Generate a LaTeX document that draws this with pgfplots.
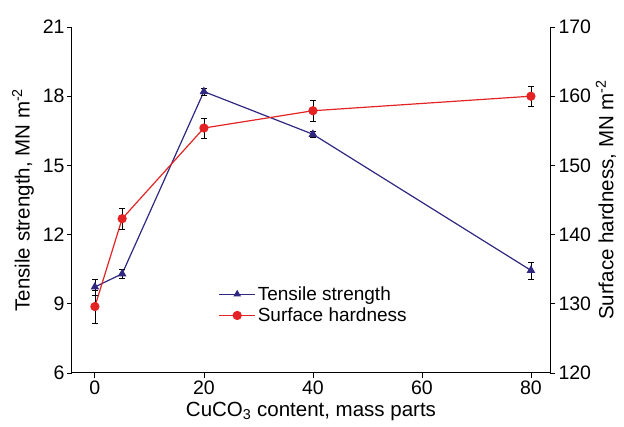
\documentclass[border=0pt]{standalone}
\usepackage{pgfplots}
\pgfplotsset{compat=1.18}
\usepackage{fontspec}
\setmainfont{Liberation Sans}
\setsansfont{Liberation Sans}
\definecolor{tsblue}{RGB}{48,40,128}
\definecolor{shred}{RGB}{228,36,36}
\begin{document}
\begin{tikzpicture}
\pgfplotsset{
  common/.style={
    scale only axis, width=478pt, height=346pt,
    xmin=-4.2, xmax=83.5,
    tick align=outside,
    major tick length=5pt,
    tick style={black, line width=0.8pt},
    axis line style={black, line width=1pt},
    ticklabel style={font=\fontsize{19.5}{22}\selectfont},
    label style={font=\fontsize{20.5}{23}\selectfont},
    /pgf/number format/assume math mode=true,
    error bars/error bar style={black, line width=0.5pt},
    error bars/error mark options={black, rotate=90, mark size=3pt, line width=0.5pt},
  }
}
\begin{axis}[common, name=ax,
  axis x line*=bottom, axis y line*=left,
  ymin=6, ymax=21, ytick={6,9,12,15,18,21},
  xtick={0,20,40,60,80},
  xticklabel style={yshift=1pt},
  xlabel={CuCO\textsubscript{3} content, mass parts},
  ylabel={Tensile strength, MN m\textsuperscript{-2}},
  yticklabel style={xshift=1pt},
  ylabel style={yshift=2pt},
  xlabel style={yshift=-1pt},
]
\addplot[tsblue, line width=1.2pt, mark=triangle*, mark size=3.8pt,
  mark options={tsblue},
  error bars/.cd, y dir=both, y explicit]
  coordinates {
    (0,9.73) +- (0,0.35)
    (5,10.30) +- (0,0.2)
    (20,18.2) +- (0,0.15)
    (40,16.35) +- (0,0.15)
    (80,10.45) +- (0,0.37)
  };
\end{axis}
\begin{axis}[common,
  axis x line=none, axis y line*=right,
  ymin=120, ymax=170, ytick={120,130,140,150,160,170},
  ylabel={Surface hardness, MN m\textsuperscript{-2}},
  ylabel style={yshift=2pt},
  legend style={at={(0.30,0.262)}, anchor=north west, draw=none, fill=none,
    font=\fontsize{19}{21}\selectfont, row sep=2pt},
  legend cell align=left,
  legend image code/.code={\draw[mark repeat=2, mark phase=2, #1]
    plot coordinates {(0pt,0pt) (18pt,0pt) (36pt,0pt)};},
]
\addlegendimage{tsblue, line width=1.2pt, mark=triangle*, mark size=3.2pt}
\addlegendentry{Tensile strength}
\addplot[shred, line width=1.2pt, mark=*, mark size=4pt,
  mark options={shred},
  error bars/.cd, y dir=both, y explicit]
  coordinates {
    (0,129.6) +- (0,2.4)
    (5,142.3) +- (0,1.5)
    (20,155.4) +- (0,1.45)
    (40,157.9) +- (0,1.45)
    (80,160.0) +- (0,1.4)
  };
\addlegendentry{Surface hardness}
\end{axis}
\pgfresetboundingbox
\path ([shift={(-72pt,-54pt)}]ax.south west) rectangle ([shift={(74pt,27pt)}]ax.north east);
\end{tikzpicture}
\end{document}
